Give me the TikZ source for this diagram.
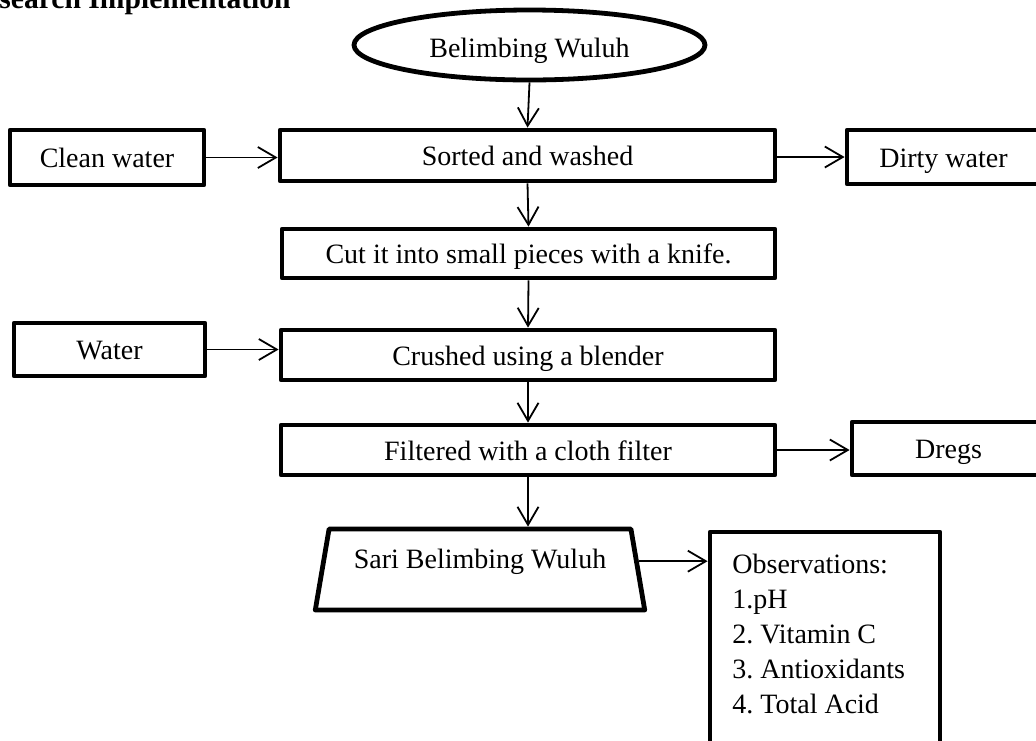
\documentclass[tikz,border=0pt]{standalone}
\usepackage{fontspec}
\setmainfont{Liberation Serif}
\usetikzlibrary{arrows.meta,shapes.geometric}
\frenchspacing
\begin{document}
\begin{tikzpicture}[x=0.5pt,y=-0.5pt,
  txt/.style={font=\fontsize{14pt}{17.5pt}\selectfont},
  box/.style={draw,line width=2.4pt,line join=round,rectangle,inner sep=0pt,text height=12pt,text depth=2pt,txt},
  conn/.style={line width=0.9pt,-{Straight Barb[length=9pt,width=10.5pt,line width=0.9pt]}}]
\useasboundingbox (0,0) rectangle (1036,740);
\node[anchor=base west,inner sep=0pt,font=\bfseries\fontsize{14.8pt}{17pt}\selectfont] (head) at (-1,8) {search Implementation};
\node[ellipse,draw,line width=2.4pt,minimum width=175.5pt,minimum height=35pt,inner sep=0pt,text height=12pt,text depth=0pt,txt] (ell) at (529.5,45) {Belimbing Wuluh};
\node[box,minimum width=97pt,minimum height=27.5pt] (clean) at (107,157.5) {Clean water};
\node[box,minimum width=247.5pt,minimum height=25.5pt] (sorted) at (527.5,155.5) {Sorted and washed};
\node[box,minimum width=96.5pt,minimum height=27pt] (dirty) at (943.5,157) {Dirty water};
\node[box,minimum width=246.5pt,minimum height=24.5pt] (cut) at (528.5,253.5) {Cut it into small pieces with a knife.};
\node[box,minimum width=95.5pt,minimum height=26.5pt] (water) at (109.5,349.5) {Water};
\node[box,minimum width=247pt,minimum height=25pt] (crushed) at (528,355) {Crushed using a blender};
\node[box,minimum width=247pt,minimum height=25pt] (filt) at (528,450) {Filtered with a cloth filter};
\node[box,minimum width=96.5pt,minimum height=26.5pt] (dregs) at (948.5,448.5) {Dregs};
\node[trapezium,draw,line width=2.4pt,line join=round,trapezium left angle=75,trapezium right angle=75,trapezium stretches=true,minimum width=165pt,minimum height=40.5pt,inner sep=0pt,text height=10pt,text depth=11.5pt,txt] (trap) at (480,569.5) {Sari Belimbing Wuluh};
\node[draw,line width=2.4pt,line join=round,minimum width=115pt,minimum height=114pt,inner sep=0pt] (obs) at (825,646) {};
\node[anchor=north west,align=left,inner sep=0pt,txt] (obstext) at (732,554) {Observations:\\1.pH\\2. Vitamin C\\3. Antioxidants\\4. Total Acid};
\draw[conn] (ell.south) -- (sorted.north);
\draw[conn] (clean.east) -- (clean.east -| sorted.west);
\draw[conn] (dirty.west -| sorted.east) -- (dirty.west);
\draw[conn] (sorted.south) -- (cut.north);
\draw[conn] (cut.south) -- (crushed.north);
\draw[conn] (water.east) -- (water.east -| crushed.west);
\draw[conn] (crushed.south) -- (filt.north);
\draw[conn] (filt.east) -- (filt.east -| dregs.west);
\draw[conn] (filt.south) -- (filt.south |- trap.north);
\draw[conn] (trap.3) -- (trap.3 -| obs.west);
\end{tikzpicture}
\end{document}
